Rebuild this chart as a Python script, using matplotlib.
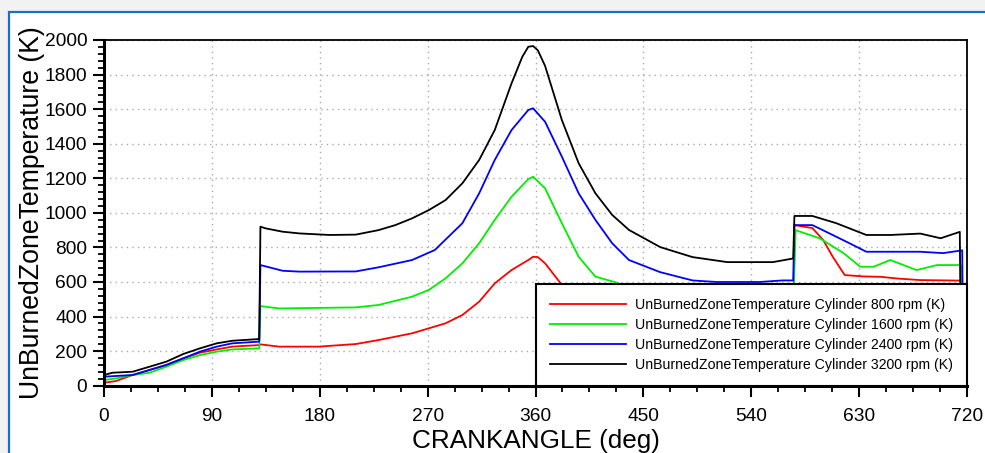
import matplotlib.pyplot as plt
from matplotlib.patches import Rectangle
from matplotlib.ticker import MultipleLocator

plt.rcParams["font.family"] = ["Liberation Sans", "DejaVu Sans"]

# crank angle (deg) / unburned zone temperature (K)
angle_800 = [0, 10, 24, 38, 52, 66, 80, 94, 107, 129.5, 130.5, 146, 179, 210, 229, 257, 271, 285, 299,
             313, 326, 340, 354, 358, 362, 368, 382, 400, 430, 460, 500, 540, 575, 576, 591, 600, 608,
             618, 634, 648, 662, 681, 716, 717, 720]
temp_800 = [17, 27, 62, 91, 120, 158, 191, 210, 226, 235, 239, 226, 226, 241, 264, 303, 332, 361, 409,
            486, 592, 669, 727, 746, 744, 708, 583, 480, 400, 360, 330, 320, 320, 929, 912, 843, 746,
            640, 632, 630, 620, 611, 608, 20, 20]

angle_1600 = [0, 10, 24, 38, 52, 66, 80, 94, 107, 129.5, 130.5, 146, 210, 229, 257, 271, 285, 299, 313,
              326, 340, 354, 358, 368, 382, 396, 410, 426, 450, 480, 510, 540, 575, 577, 597, 617, 631,
              642, 656, 678, 695, 715, 716, 720]
temp_1600 = [33, 42, 62, 75, 110, 148, 177, 197, 210, 216, 461, 447, 453, 467, 515, 554, 621, 708, 824,
             959, 1093, 1195, 1209, 1142, 940, 746, 631, 600, 540, 490, 460, 445, 440, 900, 853, 767, 688,
             688, 727, 669, 698, 698, 40, 40]

angle_2400 = [0, 24, 38, 52, 66, 80, 94, 107, 129.5, 130.5, 149, 163, 210, 229, 257, 276, 299, 313, 326,
              340, 354, 358, 368, 382, 396, 410, 424, 438, 464, 491, 511, 547, 566, 575, 576, 591, 605,
              622, 636, 661, 681, 700, 716, 717, 720]
temp_2400 = [52, 62, 91, 120, 158, 197, 226, 245, 255, 698, 665, 660, 661, 685, 727, 785, 940, 1113, 1306,
             1479, 1595, 1605, 1527, 1325, 1113, 959, 824, 727, 657, 609, 600, 600, 609, 609, 929, 929, 882,
             824, 775, 775, 775, 767, 783, 50, 50]

angle_3200 = [0, 7, 24, 38, 52, 66, 80, 94, 107, 129.5, 130.5, 135, 149, 163, 188, 210, 229, 243, 257,
              271, 285, 299, 313, 326, 340, 349, 354, 358, 362, 368, 382, 396, 410, 424, 438, 464, 491,
              520, 558, 575, 576, 591, 611, 636, 656, 681, 698, 714, 715, 720]
temp_3200 = [62, 75, 81, 110, 139, 183, 216, 245, 260, 270, 920, 910, 891, 881, 872, 874, 900, 929, 968,
             1016, 1074, 1171, 1306, 1479, 1749, 1903, 1961, 1965, 1940, 1850, 1537, 1287, 1113, 988, 901,
             802, 744, 715, 715, 736, 982, 982, 940, 872, 872, 880, 853, 890, 60, 60]

series = [
    (angle_800, temp_800, "#ff0000", "UnBurnedZoneTemperature Cylinder 800 rpm (K)"),
    (angle_1600, temp_1600, "#00ee00", "UnBurnedZoneTemperature Cylinder 1600 rpm (K)"),
    (angle_2400, temp_2400, "#0000ff", "UnBurnedZoneTemperature Cylinder 2400 rpm (K)"),
    (angle_3200, temp_3200, "#000000", "UnBurnedZoneTemperature Cylinder 3200 rpm (K)"),
]

fig = plt.figure(figsize=(9.85, 4.53), dpi=100)
fig.patch.set_facecolor("#f2f2f2")
# white panel with blue frame, kept behind the axes
fig.patches.append(Rectangle((9 / 985, -0.1), 1.2, 0.1 + (453 - 12) / 453, transform=fig.transFigure,
                             facecolor="white", edgecolor="#1a6fc4", linewidth=1.6, zorder=-10))

ax = fig.add_axes([104 / 985, 67.3 / 453, 863 / 985, 345.7 / 453])
ax.set_facecolor("white")

for x, y, c, lab in series:
    ax.plot(x, y, color=c, linewidth=1.3, label=lab)

ax.set_xlim(0, 720)
ax.set_ylim(0, 2000)
ax.xaxis.set_major_locator(MultipleLocator(90))
ax.xaxis.set_minor_locator(MultipleLocator(22.5))
ax.yaxis.set_major_locator(MultipleLocator(200))
ax.yaxis.set_minor_locator(MultipleLocator(40))
ax.grid(True, which="major", linestyle=(0, (1, 3)), color="#aaaaaa", linewidth=1.0)

ax.tick_params(which="major", direction="out", length=8, width=1.5, labelsize=13.8)
ax.tick_params(which="minor", direction="out", length=4, width=1.3)
ax.tick_params(axis="x", which="major", pad=8)
ax.tick_params(axis="y", which="major", pad=4)
ax.tick_params(top=False, right=False)

ax.spines["left"].set_linewidth(2.2)
ax.spines["bottom"].set_linewidth(2.2)
ax.spines["top"].set_linewidth(1.3)
ax.spines["right"].set_linewidth(1.3)

ax.set_xlabel("CRANKANGLE (deg)", fontsize=18.8, labelpad=3)
ax.set_ylabel("UnBurnedZoneTemperature (K)", fontsize=19.2, labelpad=0)

leg = ax.legend(loc="lower right", fontsize=10.2, fancybox=False, edgecolor="black",
                framealpha=1, borderaxespad=0, handlelength=5.4, labelspacing=0.42,
                borderpad=1.0, handletextpad=0.6)
leg.get_frame().set_linewidth(1.5)

fig.savefig("out.png", dpi=100, facecolor=fig.get_facecolor())
